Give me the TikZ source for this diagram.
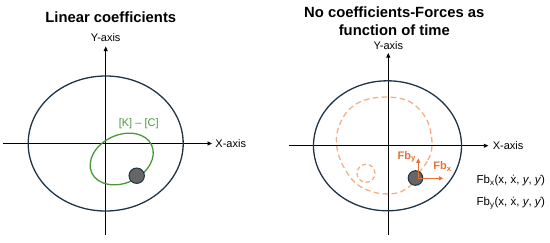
\documentclass[tikz,border=0pt]{standalone}
\usepackage{amsmath}
\usepackage{fontspec}
\setmainfont{Liberation Sans}
\usepackage{tikz}
\usetikzlibrary{arrows.meta}
\definecolor{navyline}{HTML}{1E3448}
\definecolor{kcgreen}{HTML}{4A983A}
\definecolor{fborange}{HTML}{E97132}
\definecolor{pathpeach}{HTML}{F5AE80}
\definecolor{ballgray}{HTML}{666666}

\begin{document}
\begin{tikzpicture}[>=Stealth, x=1pt, y=-1pt,
    axis/.style={line width=0.9pt, -{Triangle[length=4.5pt,width=4pt]}},
    axislabel/.style={font=\fontsize{11}{13}\selectfont, inner sep=1pt},
    headline/.style={font=\fontsize{14.8}{18.5}\selectfont\bfseries, align=center},
    wall/.style={navyline, line width=1.3pt},
    ball/.style={circle, draw=navyline, fill=ballgray, line width=1pt, inner sep=0pt},
    force/.style={fborange, line width=1.1pt, -{Triangle[length=4.5pt,width=4pt]}},
    forcelabel/.style={fborange, font=\fontsize{11}{13}\selectfont\bfseries, inner sep=0pt},
    formula/.style={anchor=west, inner sep=0pt, font=\fontsize{11.5}{13}\selectfont}]

\useasboundingbox (0,0) rectangle (550,242);

% Titulos

\node[headline] (titleL) at (110.8,17) {Linear coefficients};

\node[headline] (titleR) at (394.3,21) {No coefficients-Forces as\\function of time};

% Eixos esquerda

\coordinate (xL0) at (3,143.5);
\coordinate (xL1) at (212,143.5);
\coordinate (yL0) at (105.7,235);
\coordinate (yL1) at (105.7,46.5);

\draw[axis] (xL0) -- (xL1) node[axislabel, right=2pt] (xlabL) {X-axis};

\draw[axis] (yL0) -- (yL1) node[axislabel, above=3pt] (ylabL) {Y-axis};

% Eixos direita

\coordinate (xR0) at (289,145.7);
\coordinate (xR1) at (488.3,145.7);
\coordinate (yR0) at (388.3,235);
\coordinate (yR1) at (388.3,53);

\draw[axis] (xR0) -- (xR1) node[axislabel, right=3pt] (xlabR) {X-axis};

\draw[axis] (yR0) -- (yR1) node[axislabel, above=2pt] (ylabR) {Y-axis};

% Parede

\draw[wall] (105.7,143.5) ellipse [x radius=77.5pt, y radius=67.5pt];

\draw[wall] (387.5,145.8) ellipse [x radius=74pt, y radius=65pt];

% Orbita linear

\draw[kcgreen, line width=1.3pt, rotate around={25:(121.7,159)}]
  (121.7,159) ellipse [x radius=33pt, y radius=24pt];

\node[kcgreen, axislabel] (kc) at (138.7,124) {[K] -- [C]};

\node[ball, minimum size=15.4pt] (ballL) at (136.7,175.7) {};

% Orbita nao linear

\draw[pathpeach, line width=1.3pt, dash pattern=on 5.5pt off 3.5pt]
  plot[smooth cycle, tension=0.6] coordinates {
    (415,178) (428,160) (432,145) (429,125) (420,110) (406,100)
    (385,97) (362,101) (346,113) (337,133) (338,153) (346,171)
    (358,185) (377,193) (397,193) (410,186)};

\draw[pathpeach, line width=1.3pt, dash pattern=on 4pt off 3pt]
  (366,173.3) circle [radius=9pt];

\node[ball, minimum size=14.6pt] (ballR) at (415.5,178) {};

% Forcas

\coordinate (fyEnd) at (418.3,158.3);
\coordinate (fxEnd) at (443.3,178.3);

\draw[force] (418.3,178.3) -- (fyEnd);

\draw[force] (418.3,178.3) -- (fxEnd);

\node[forcelabel] (fby) at (406.7,156.7) {Fb\textsubscript{y}};

\node[forcelabel] (fbx) at (442.5,166.7) {Fb\textsubscript{x}};

\node[formula] (eqx) at (476.5,180.7)
  {Fb\textsubscript{x}(x, \.{x}, \textit{y}, \.{\textit{y}})};

\node[formula] (eqy) at (476.5,203.3)
  {Fb\textsubscript{y}(x, \.{x}, \textit{y}, \.{\textit{y}})};

\end{tikzpicture}
\end{document}
